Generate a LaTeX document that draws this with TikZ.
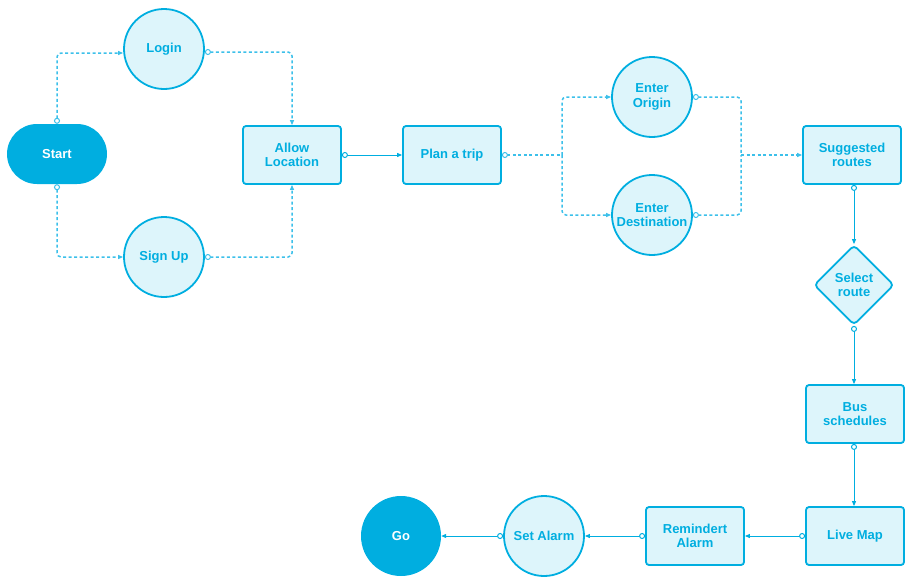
\documentclass[tikz,border=0pt]{standalone}
\usepackage{fontspec}
\setmainfont{Liberation Sans}
\usetikzlibrary{arrows.meta,shapes.geometric}
\definecolor{cyanmain}{HTML}{00AEE0}
\definecolor{cyanlight}{HTML}{DDF5FB}
\definecolor{cyandash}{HTML}{3CC0EA}
\tikzset{
  every node/.style={font=\bfseries\fontsize{13}{14.5}\selectfont, text=cyanmain, align=center},
  boxnode/.style={rectangle, rounded corners=3pt, draw=cyanmain, fill=cyanlight, line width=1.8pt, minimum width=98pt, minimum height=58pt, inner sep=0pt},
  circnode/.style={circle, draw=cyanmain, fill=cyanlight, line width=1.8pt, minimum size=80pt, inner sep=0pt},
  darkcirc/.style={circle, fill=cyanmain, text=white, minimum size=80pt, inner sep=0pt},
  decnode/.style={diamond, rounded corners=4pt, draw=cyanmain, fill=cyanlight, line width=1.8pt, minimum width=80pt, minimum height=80pt, inner sep=0pt},
  startnode/.style={rectangle, rounded corners=30pt, fill=cyanmain, text=white, minimum width=100pt, minimum height=60pt},
  conn/.style={draw=cyanmain, line width=1pt, {Circle[open,fill=white,length=6pt,line width=1pt]}-{Triangle[length=5pt,width=4pt]}},
  dconn/.style={draw=cyandash, line width=1.5pt, dash pattern=on 3pt off 2.5pt, rounded corners=4pt, {Circle[open,fill=white,length=6pt,line width=1pt]}-{Triangle[length=5pt,width=4pt]}},
  dconnend/.style={draw=cyandash, line width=1.5pt, dash pattern=on 3pt off 2.5pt, rounded corners=4pt, -{Triangle[length=5pt,width=4pt]}},
  dconnstart/.style={draw=cyandash, line width=1.5pt, dash pattern=on 3pt off 2.5pt, rounded corners=4pt, {Circle[open,fill=white,length=6pt,line width=1pt]}-},
}
\begin{document}
\begin{tikzpicture}[x=1pt,y=-1pt]
\useasboundingbox (0,0) rectangle (909,584);
\node[startnode] (start) at (57,154) {Start};
\node[circnode] (login) at (164,49) {Login};
\node[circnode] (signup) at (164,257) {Sign Up};
\node[boxnode] (allow) at (292,155) {Allow\\Location};
\node[boxnode] (plan) at (452,155) {Plan a trip};
\node[circnode] (origin) at (652,97) {Enter\\Origin};
\node[circnode] (dest) at (652,215) {Enter\\Destination};
\node[boxnode] (sugg) at (852,155) {Suggested\\routes};
\node[decnode] (select) at (854,285) {Select\\route};
\node[boxnode] (bus) at (855,414) {Bus\\schedules};
\node[boxnode] (live) at (855,536) {Live Map};
\node[boxnode] (remind) at (695,536) {Remindert\\Alarm};
\node[circnode] (setalarm) at (544,536) {Set Alarm};
\node[darkcirc] (go) at (401,536) {Go};

\coordinate (split) at (562,155);
\coordinate (merge) at (741,155);

\draw[dconn] (start.north) |- ([yshift=-4pt]login.west);
\draw[dconn] (start.south) |- (signup.west);
\draw[dconn] ([yshift=-3pt]login.east) -| (allow.north);
\draw[dconn] (signup.east) -| (allow.south);
\draw[conn] (allow.east) -- (plan.west);
\draw[dconnstart] (plan.east) -- (split);
\draw[dconnend] (split) |- (origin.west);
\draw[dconnend] (split) |- (dest.west);
\draw[dconnstart] (origin.east) -| (merge);
\draw[dconnstart] (dest.east) -| (merge);
\draw[dconnend] (merge) -- (sugg.west);
\draw[conn] ([xshift=2pt]sugg.south) -- (select.north);
\draw[conn] (select.south) -- ([xshift=-1pt]bus.north);
\draw[conn] ([xshift=-1pt]bus.south) -- ([xshift=-1pt]live.north);
\draw[conn] (live.west) -- (remind.east);
\draw[conn] (remind.west) -- (setalarm.east);
\draw[conn] (setalarm.west) -- (go.east);
\end{tikzpicture}
\end{document}
